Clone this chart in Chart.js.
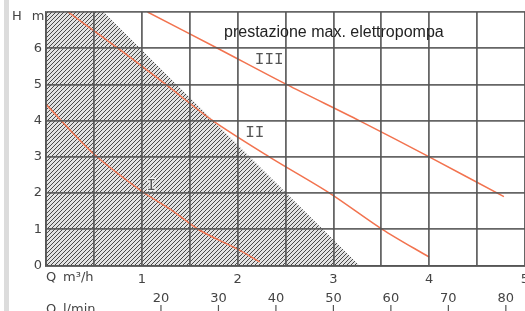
<!DOCTYPE html>
<html>
<head>
<meta charset="utf-8">
<script src="https://cdn.jsdelivr.net/npm/chart.js@4/dist/chart.umd.min.js"></script>
<style>
  body { margin: 0; background: #fff; }
  #wrap {
    position: relative; width: 525px; height: 311px;
    background: linear-gradient(to right, #fff 4px, #dcdcdc 4px, #dcdcdc 9px, #fff 9px);
  }
</style>
</head>
<body>
<div id="wrap"><canvas id="pumpChart" width="525" height="311"></canvas></div>
<script>
// Curve data (Q in m3/h, H in m)
const hatchQ = [0, 0.6, 3.27];
const hatchH = [7, 7, 0];
const curveIQ = [0, 0.5, 1.0, 1.3, 1.6, 2.0, 2.23];
const curveIH = [4.45, 3.08, 2.05, 1.55, 0.98, 0.45, 0.1];
const curveIIQ = [0.23, 0.75, 1.25, 1.74, 2.33, 2.96, 3.51, 4.0];
const curveIIH = [7, 6, 5, 4, 3, 2, 1, 0.23];
const curveIIIQ = [1.06, 1.79, 2.51, 3.27, 4.0, 4.78];
const curveIIIH = [7, 6, 5, 4, 3, 1.9];

// Axis ticks
const hTicks = [0, 1, 2, 3, 4, 5, 6, 7];
const qTicks = [1, 2, 3, 4, 5];
const lpmTicks = [20, 30, 40, 50, 60, 70, 80];

// Labels placed on the curves
const curveLabels = [
    { text: 'I', q: 1.10, h: 2.2 },
    { text: 'II', q: 2.18, h: 3.67 },
    { text: 'III', q: 2.33, h: 5.69 }
];
const titleText = 'prestazione max. elettropompa';

const orange = '#f2734f';
const gridColor = 'rgba(85,85,85,0.9)';
const tickFont = { family: 'DejaVu Sans', size: 13 };

function toPoints(qs, hs) {
    return qs.map((q, i) => ({ x: q, y: hs[i] }));
}

// Diagonal hatch pattern for the forbidden area
function makeHatch() {
    const c = document.createElement('canvas');
    c.width = 4; c.height = 4;
    const g = c.getContext('2d');
    g.fillStyle = '#e2e2e2';
    g.fillRect(0, 0, 4, 4);
    g.strokeStyle = '#484848';
    g.lineWidth = 1;
    g.beginPath();
    g.moveTo(-1, 1); g.lineTo(1, -1);
    g.moveTo(0, 4); g.lineTo(4, 0);
    g.moveTo(3, 5); g.lineTo(5, 3);
    g.stroke();
    return g.createPattern(c, 'repeat');
}

const textPlugin = {
    id: 'pumpText',
    afterDraw(chart) {
        const ctx = chart.ctx;
        const x = chart.scales.x;
        const y = chart.scales.y;
        const x2 = chart.scales.x2;
        ctx.save();

        ctx.fillStyle = '#222';
        ctx.font = '16px "Liberation Sans"';
        ctx.textAlign = 'left';
        ctx.textBaseline = 'alphabetic';
        ctx.fillText(titleText, 224, 37);

        ctx.font = '16px "Liberation Mono"';
        ctx.textAlign = 'center';
        ctx.textBaseline = 'middle';
        ctx.lineJoin = 'round';
        curveLabels.forEach(l => {
            const px = x.getPixelForValue(l.q);
            const py = y.getPixelForValue(l.h);
            ctx.strokeStyle = 'rgba(255,255,255,0.8)';
            ctx.lineWidth = 2.5;
            ctx.strokeText(l.text, px, py);
            ctx.fillStyle = '#555';
            ctx.fillText(l.text, px, py);
        });

        ctx.fillStyle = '#444';
        ctx.font = '13px "DejaVu Sans"';
        ctx.fillText('H', 17, 17);
        ctx.fillText('m', 38, 17);

        ctx.textAlign = 'left';
        ctx.fillText('Q', 46, 278);
        ctx.fillText('m³/h', 63, 278);
        ctx.textBaseline = 'top';
        ctx.fillText('Q', 46, 303);
        ctx.fillText('l/min', 63, 303);

        // little tick marks below the l/min labels
        ctx.strokeStyle = '#555';
        ctx.lineWidth = 1.2;
        x2.ticks.forEach((t, i) => {
            const px = x2.getPixelForTick(i);
            ctx.beginPath();
            ctx.moveTo(px, 305);
            ctx.lineTo(px, 311);
            ctx.stroke();
        });
        ctx.restore();
    }
};

new Chart(document.getElementById('pumpChart'), {
    type: 'line',
    data: {
        datasets: [
            {
                label: 'area',
                data: toPoints(hatchQ, hatchH),
                backgroundColor: makeHatch(),
                borderWidth: 0,
                pointRadius: 0,
                fill: 'origin',
                tension: 0,
                order: 5
            },
            {
                label: 'I',
                data: toPoints(curveIQ, curveIH),
                borderColor: orange,
                borderWidth: 1.5,
                pointRadius: 0,
                fill: false,
                tension: 0.3,
                order: 1
            },
            {
                label: 'II',
                data: toPoints(curveIIQ, curveIIH),
                borderColor: orange,
                borderWidth: 1.5,
                pointRadius: 0,
                fill: false,
                tension: 0.3,
                order: 1
            },
            {
                label: 'III',
                data: toPoints(curveIIIQ, curveIIIH),
                borderColor: orange,
                borderWidth: 1.5,
                pointRadius: 0,
                fill: false,
                tension: 0.3,
                order: 1
            }
        ]
    },
    options: {
        responsive: false,
        animation: false,
        layout: { padding: { top: 12, right: 0, left: 0, bottom: 0 } },
        plugins: {
            legend: { display: false },
            tooltip: { enabled: false }
        },
        scales: {
            x: {
                type: 'linear',
                position: 'bottom',
                weight: 0,
                min: 0,
                max: 5,
                grid: { color: gridColor, lineWidth: 1.8, drawTicks: false, z: 1 },
                border: { display: true, color: gridColor, width: 1.8, z: 1 },
                ticks: {
                    stepSize: 0.5,
                    padding: 6,
                    color: '#444',
                    font: tickFont,
                    maxRotation: 0,
                    autoSkip: false,
                    callback: v => (qTicks.includes(v) ? String(v) : '')
                },
                afterFit: s => { s.height = 22; s.paddingLeft = 0; s.paddingRight = 0; }
            },
            x2: {
                type: 'linear',
                position: 'bottom',
                weight: 1,
                min: 0,
                max: 5 * 1000 / 60,
                grid: { display: false, drawTicks: false },
                border: { display: false },
                afterBuildTicks: s => { s.ticks = lpmTicks.map(v => ({ value: v })); },
                ticks: {
                    padding: 3,
                    color: '#444',
                    font: tickFont,
                    maxRotation: 0,
                    autoSkip: false
                },
                afterFit: s => { s.height = 23.5; s.paddingLeft = 0; s.paddingRight = 0; }
            },
            y: {
                type: 'linear',
                min: 0,
                max: 7,
                afterBuildTicks: s => { s.ticks = hTicks.map(v => ({ value: v })); },
                grid: { color: gridColor, lineWidth: 1.8, drawTicks: false, z: 1 },
                border: { display: true, color: gridColor, width: 1.8, z: 1 },
                ticks: {
                    padding: 4,
                    color: '#444',
                    font: tickFont,
                    callback: v => (v < 7 ? String(v) : '')
                },
                afterFit: s => { s.width = 46; s.paddingTop = 0; s.paddingBottom = 0; }
            }
        }
    },
    plugins: [textPlugin]
});
</script>
</body>
</html>
